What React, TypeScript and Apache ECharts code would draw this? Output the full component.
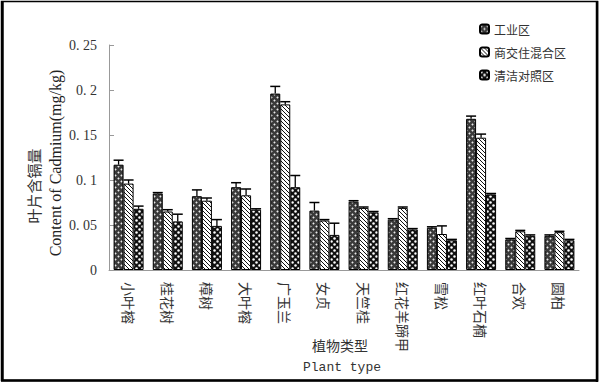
import React, { useEffect, useRef } from "react";
import * as echarts from "echarts";

const categories = ["小叶榕", "桂花树", "樟树", "大叶榕", "广玉兰", "女贞", "天竺桂", "红花羊蹄甲", "雪松", "红叶石楠", "合欢", "圆柏"];
const seriesNames = ["工业区", "商交住混合区", "清洁对照区"];
const industrial = [0.117, 0.085, 0.082, 0.092, 0.196, 0.066, 0.076, 0.056, 0.047, 0.168, 0.034, 0.038];
const mixed = [0.096, 0.065, 0.077, 0.083, 0.184, 0.055, 0.069, 0.069, 0.040, 0.147, 0.043, 0.042];
const clean = [0.068, 0.054, 0.049, 0.067, 0.092, 0.039, 0.064, 0.045, 0.033, 0.084, 0.038, 0.033];
const industrialErr = [0.005, 0.001, 0.007, 0.005, 0.008, 0.009, 0.001, 0.001, 0.001, 0.003, 0.001, 0.001];
const mixedErr = [0.004, 0.002, 0.003, 0.007, 0.003, 0.001, 0.001, 0.001, 0.009, 0.004, 0.001, 0.001];
const cleanErr = [0.003, 0.008, 0.007, 0.001, 0.013, 0.013, 0.001, 0.001, 0.001, 0.001, 0.001, 0.001];
const yTicks = [0, 0.05, 0.1, 0.15, 0.2, 0.25];

function makePattern(kind: number): HTMLCanvasElement {
  const c = document.createElement("canvas");
  const s = kind === 1 ? 8 : 6;
  c.width = s;
  c.height = s;
  const g = c.getContext("2d")!;
  if (kind === 0) {
    g.fillStyle = "#3a3a3a";
    g.fillRect(0, 0, s, s);
    g.fillStyle = "#e8e8e8";
    g.beginPath();
    g.moveTo(1.5, 0.3); g.lineTo(2.7, 1.5); g.lineTo(1.5, 2.7); g.lineTo(0.3, 1.5); g.closePath();
    g.fill();
    g.beginPath();
    g.moveTo(4.5, 3.3); g.lineTo(5.7, 4.5); g.lineTo(4.5, 5.7); g.lineTo(3.3, 4.5); g.closePath();
    g.fill();
  } else if (kind === 1) {
    g.fillStyle = "#ffffff";
    g.fillRect(0, 0, s, s);
    g.strokeStyle = "#111";
    g.lineWidth = 1;
    for (let k = -s; k <= s; k += 4) {
      g.beginPath();
      g.moveTo(k, 0);
      g.lineTo(k + s, s);
      g.stroke();
    }
  } else {
    g.fillStyle = "#111";
    g.fillRect(0, 0, s, s);
    g.fillStyle = "#ffffff";
    g.beginPath(); g.arc(1.5, 1.5, 1.25, 0, Math.PI * 2); g.fill();
    g.beginPath(); g.arc(4.5, 4.5, 1.25, 0, Math.PI * 2); g.fill();
  }
  return c;
}

export default function App() {
  const ref = useRef<HTMLDivElement>(null);
  useEffect(() => {
    if (!ref.current) return;
    const chart = echarts.init(ref.current, undefined, { renderer: "svg" });
    const values = [industrial, mixed, clean];
    const errs = [industrialErr, mixedErr, cleanErr];
    const barW = 10;
    const patterns = [0, 1, 2].map((k) => ({ image: makePattern(k), repetition: "repeat" }));

    const barSeries = values.map((vals, si) => ({
      name: seriesNames[si],
      type: "bar",
      data: vals,
      barWidth: barW,
      barGap: "0%",
      itemStyle: { color: patterns[si] as any, borderColor: "#000", borderWidth: 1 },
    }));

    const errSeries = values.map((vals, si) => ({
      type: "custom",
      name: "err" + si,
      silent: true,
      z: 5,
      data: vals.map((v, i) => [i, v, errs[si][i]]),
      renderItem: (params: any, api: any) => {
        const idx = api.value(0);
        const v = api.value(1);
        const e = api.value(2);
        const top = api.coord([idx, v + e]);
        const base = api.coord([idx, v]);
        const x = top[0] + (si - 1) * barW;
        return {
          type: "group",
          children: [
            { type: "line", shape: { x1: x, y1: base[1], x2: x, y2: top[1] }, style: { stroke: "#000", lineWidth: 1.3 } },
            { type: "line", shape: { x1: x - 5, y1: top[1], x2: x + 5, y2: top[1] }, style: { stroke: "#000", lineWidth: 1.5 } },
          ],
        };
      },
    }));

    chart.setOption({
      animation: false,
      grid: { left: 109, right: 21, top: 45, bottom: 113 },
      legend: {
        data: seriesNames,
        orient: "vertical",
        left: 474,
        top: 18,
        itemWidth: 9,
        itemHeight: 9,
        itemGap: 11,
        textStyle: { fontFamily: "Noto Sans CJK SC", fontSize: 12, color: "#333" },
      },
      xAxis: {
        type: "category",
        data: categories,
        axisLine: { lineStyle: { color: "#999", width: 1 } },
        axisTick: { inside: true, length: 4, lineStyle: { color: "#999" } },
        axisLabel: {
          rotate: -90,
          margin: 12,
          fontFamily: "Noto Sans CJK SC",
          fontSize: 14,
          color: "#333",
        },
      },
      yAxis: {
        type: "value",
        min: 0,
        max: 0.25,
        interval: 0.05,
        splitLine: { show: false },
        axisLine: { show: true, lineStyle: { color: "#999" } },
        axisTick: { show: true, inside: true, length: 5, lineStyle: { color: "#999" } },
        axisLabel: {
          margin: 12,
          fontFamily: "Liberation Serif",
          fontSize: 14,
          color: "#333",
          formatter: (v: number) => {
            const t = yTicks.find((y) => Math.abs(y - v) < 1e-9);
            const val = t === undefined ? v : t;
            return val === 0 ? "0" : String(val).replace(".", ". ");
          },
        },
      },
      graphic: [
        { type: "rect", shape: { x: 1.5, y: 1.5, width: 596, height: 379 }, style: { fill: "none", stroke: "#000", lineWidth: 1.5 } },
        { type: "line", shape: { x1: 2.5, y1: 1, x2: 2.5, y2: 381 }, style: { stroke: "#000", lineWidth: 2.5 } },
        { type: "line", shape: { x1: 597, y1: 1, x2: 597, y2: 382 }, style: { stroke: "#000", lineWidth: 2.5 } },
        { type: "line", shape: { x1: 1, y1: 380.5, x2: 598, y2: 380.5 }, style: { stroke: "#000", lineWidth: 2.5 } },
        {
          type: "text",
          x: 33,
          y: 186,
          rotation: Math.PI / 2,
          style: { text: "叶片含镉量", fontFamily: "Noto Sans CJK SC", fontSize: 15, fill: "#333", align: "center", verticalAlign: "middle" },
        },
        {
          type: "text",
          x: 55,
          y: 163,
          rotation: Math.PI / 2,
          style: { text: "Content of Cadmium(mg/kg)", fontFamily: "Liberation Serif", fontSize: 16, fill: "#222", align: "center", verticalAlign: "middle" },
        },
        {
          type: "text",
          x: 340,
          y: 345,
          style: { text: "植物类型", fontFamily: "Noto Sans CJK SC", fontSize: 14, fill: "#333", align: "center", verticalAlign: "middle" },
        },
        {
          type: "text",
          x: 342,
          y: 367,
          style: { text: "Plant type", fontFamily: "Liberation Mono", fontSize: 13, fill: "#333", align: "center", verticalAlign: "middle" },
        },
      ],
      series: [...barSeries, ...errSeries],
    } as any);
    return () => chart.dispose();
  }, []);
  return <div ref={ref} style={{ position: "fixed", left: 0, top: 0, width: 600, height: 383, background: "#fff" }} />;
}
